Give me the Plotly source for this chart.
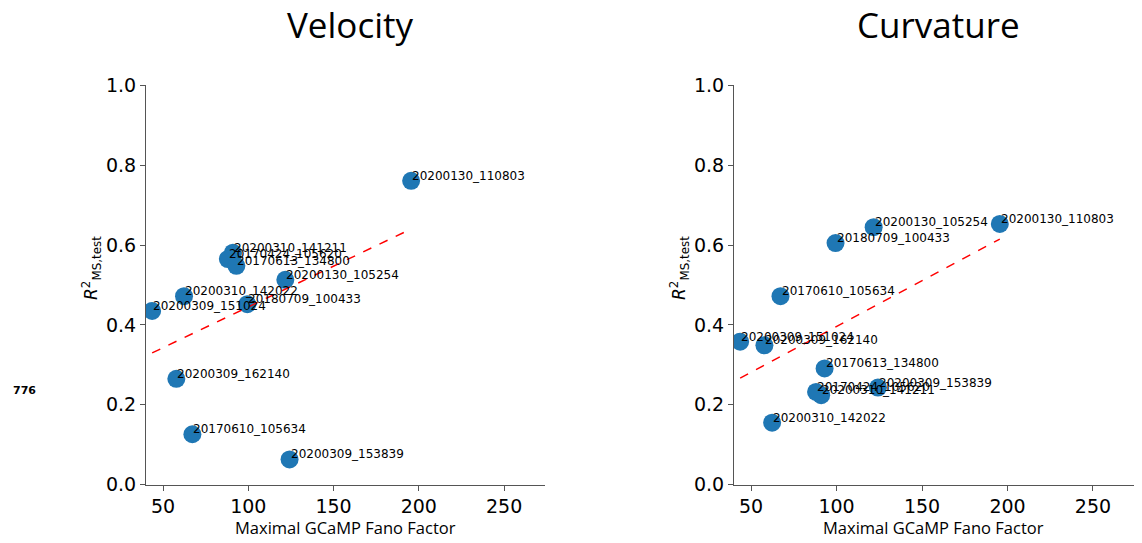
import numpy as np
import plotly.graph_objects as go

names = ["20200130_110803", "20200310_141211", "20170424_105620", "20170613_134800",
         "20200130_105254", "20200310_142022", "20180709_100433", "20200309_151024",
         "20200309_162140", "20170610_105634", "20200309_153839"]
fano = [195.5, 91.0, 88.0, 93.0, 121.7, 62.3, 99.4, 43.6, 57.8, 67.2, 124.2]
r2_velocity = [0.761, 0.581, 0.565, 0.548, 0.513, 0.472, 0.452, 0.435, 0.265, 0.126, 0.063]
r2_curvature = [0.653, 0.224, 0.232, 0.291, 0.645, 0.155, 0.605, 0.358, 0.349, 0.472, 0.243]

x_ticks = [50, 100, 150, 200, 250]
y_ticks = [0.0, 0.2, 0.4, 0.6, 0.8, 1.0]
x_range = [40, 274]
y_range = [0.0, 1.0]

W, H = 1142, 543


def py(pix):
    # vertical pixel position (from top) -> paper fraction, with empirical correction
    p = (pix - 11.7) / 0.957
    return 1 - p / H


ydom = [py(484), py(86)]
panels = [
    dict(title="Velocity", y=r2_velocity, xdom=[146 / W, 545 / W], xa="x", ya="y"),
    dict(title="Curvature", y=r2_curvature, xdom=[734 / W, 1134 / W], xa="x2", ya="y2"),
]

fig = go.Figure()
annotations = []
axis_color = "#555555"
tick_font = dict(family="DejaVu Sans", size=19, color="black")

for i, p in enumerate(panels):
    xs = np.array(fano)
    ys = np.array(p["y"])
    fig.add_trace(go.Scatter(x=fano, y=p["y"], mode="markers", xaxis=p["xa"], yaxis=p["ya"],
                             marker=dict(size=18, color="#1f77b4"), showlegend=False,
                             hoverinfo="skip"))
    slope, icpt = np.polyfit(xs, ys, 1)
    lx = [xs.min(), xs.max()]
    fig.add_trace(go.Scatter(x=lx, y=[slope * v + icpt for v in lx], mode="lines",
                             xaxis=p["xa"], yaxis=p["ya"],
                             line=dict(color="red", width=1.5, dash="dash"), showlegend=False,
                             hoverinfo="skip"))
    for n, xv, yv in zip(names, fano, p["y"]):
        annotations.append(dict(x=xv, y=yv, xref=p["xa"], yref=p["ya"], text=n, showarrow=False,
                                xanchor="left", yanchor="bottom", yshift=-4, xshift=-1,
                                font=dict(family="DejaVu Sans", size=12, color="black")))
    cx = (p["xdom"][0] + p["xdom"][1]) / 2
    annotations.append(dict(x=cx + 0.004, y=py(25), xref="paper", yref="paper", text=p["title"],
                            showarrow=False, xanchor="center", yanchor="middle",
                            font=dict(family="Open Sans", size=35, color="black")))
    annotations.append(dict(x=cx, y=py(527), xref="paper", yref="paper",
                            text="Maximal GCaMP Fano Factor", showarrow=False,
                            xanchor="center", yanchor="middle",
                            font=dict(family="Open Sans", size=16.5, color="black")))
    annotations.append(dict(x=p["xdom"][0] - 54 / W, y=py(268), xref="paper", yref="paper",
                            text="<i>R</i><sup>2</sup><sub>MS,test</sub>", showarrow=False,
                            textangle=-90, xanchor="center", yanchor="middle",
                            font=dict(family="DejaVu Sans", size=17, color="black")))

annotations.append(dict(x=24 / W, y=py(390), xref="paper", yref="paper", text="<b>776</b>",
                        showarrow=False, xanchor="center", yanchor="middle",
                        font=dict(family="DejaVu Sans", size=11, color="black")))

axis_common = dict(showgrid=False, zeroline=False, showline=True, linecolor=axis_color,
                   linewidth=1.2, ticks="outside", ticklen=5, tickcolor=axis_color,
                   tickwidth=1.2, tickfont=tick_font)

layout = dict(width=W, height=H, margin=dict(l=0, r=0, t=0, b=0),
              plot_bgcolor="white", paper_bgcolor="white", annotations=annotations)
for i, p in enumerate(panels):
    sfx = "" if i == 0 else "2"
    layout["xaxis" + sfx] = dict(axis_common, domain=p["xdom"], range=x_range,
                                 tickvals=x_ticks, anchor="y" + sfx)
    layout["yaxis" + sfx] = dict(axis_common, domain=ydom, range=y_range, tickvals=y_ticks,
                                 tickformat=".1f", anchor="x" + sfx)

fig.update_layout(**layout)
fig.write_html("out.html")
